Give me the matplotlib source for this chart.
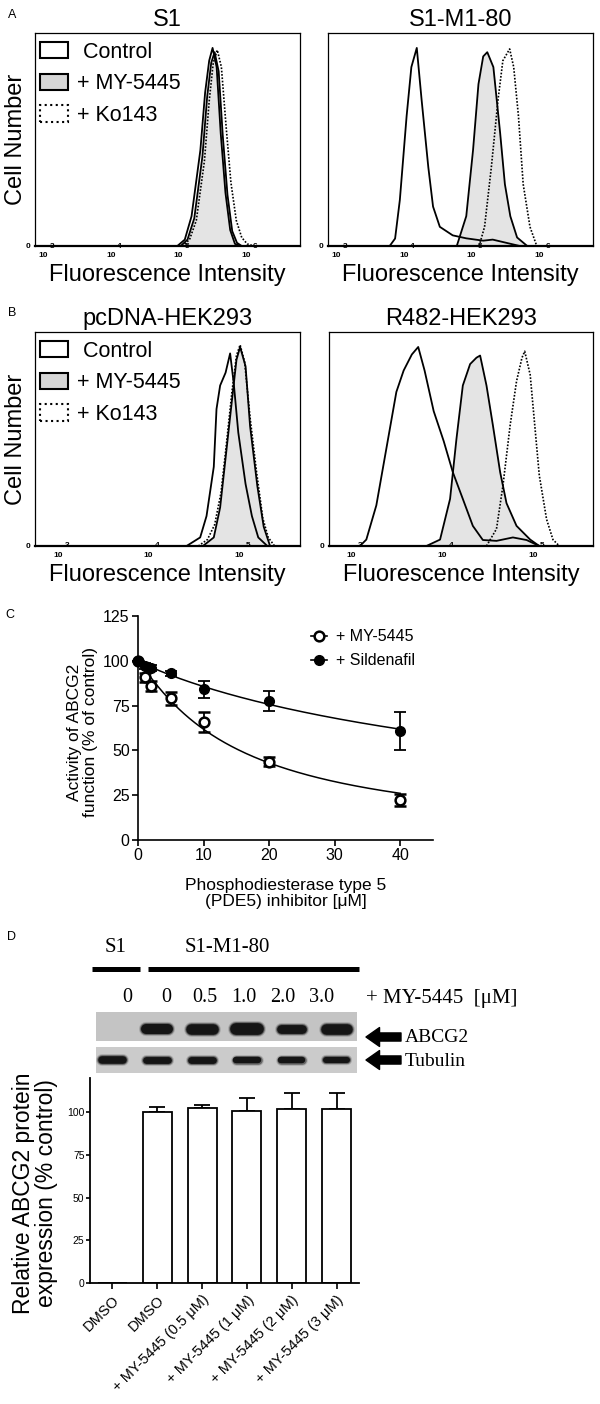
import numpy as np
import matplotlib
matplotlib.use("Agg")
import matplotlib.pyplot as plt
import matplotlib.transforms as mtransforms
from matplotlib.patches import Patch, FancyArrowPatch
from matplotlib.lines import Line2D

plt.rcParams['font.family'] = ['Liberation Sans', 'DejaVu Sans']
SERIF = ['Liberation Serif', 'DejaVu Serif']

# ---- A: flow histograms (x = log10 intensity, y = % of panel height) ----
s1_ctrl_x = [4.85, 4.96, 5.06, 5.19, 5.26, 5.32, 5.37, 5.43, 5.49, 5.56, 5.63, 5.70, 5.78]
s1_ctrl_y = [0, 3, 14, 45, 72, 87, 93, 84, 53, 25, 7.5, 1, 0]
s1_my_x = [4.90, 5.00, 5.10, 5.22, 5.29, 5.35, 5.40, 5.46, 5.52, 5.59, 5.66, 5.73, 5.80]
s1_my_y = [0, 3, 13, 42, 70, 86, 91, 82, 52, 24, 7, 1.5, 0]
s1_ko_x = [4.92, 5.03, 5.13, 5.25, 5.32, 5.38, 5.44, 5.50, 5.57, 5.64, 5.72, 5.80, 5.88, 5.98]
s1_ko_y = [0, 3, 12, 40, 68, 86, 92, 84, 56, 30, 12, 4, 1, 0]

m1_ctrl_x = [3.66, 3.74, 3.81, 3.91, 3.98, 4.06, 4.13, 4.23, 4.30, 4.40, 4.59, 4.79, 5.04, 5.18, 5.38, 5.58]
m1_ctrl_y = [0, 3.5, 21.6, 61, 84, 93, 69, 37, 18.5, 9, 5, 3.6, 2.5, 3, 1.5, 0]
m1_my_x = [4.65, 4.79, 4.89, 4.97, 5.04, 5.10, 5.19, 5.29, 5.36, 5.44, 5.54, 5.69]
m1_my_y = [0, 14, 45, 76, 89, 91, 84, 53, 29, 14, 4, 0]
m1_ko_x = [4.98, 5.06, 5.16, 5.26, 5.33, 5.43, 5.49, 5.56, 5.63, 5.73, 5.83]
m1_ko_y = [0, 9, 37, 69, 87, 92.5, 84, 61, 29, 9, 0]

# ---- B ----
hek_ctrl_x = [4.32, 4.47, 4.54, 4.62, 4.65, 4.69, 4.75, 4.80, 4.84, 4.89, 4.97, 5.04, 5.11, 5.21]
hek_ctrl_y = [0, 4, 14, 37, 64, 75, 81, 90, 76, 53, 29, 14, 4, 0]
hek_my_x = [4.50, 4.62, 4.69, 4.76, 4.82, 4.87, 4.91, 4.97, 5.02, 5.10, 5.17, 5.24]
hek_my_y = [0, 4, 18, 45, 68, 87, 93, 84, 56, 28, 9, 0]
hek_ko_x = [4.45, 4.55, 4.63, 4.70, 4.76, 4.82, 4.87, 4.91, 4.96, 5.02, 5.09, 5.16, 5.22, 5.29]
hek_ko_y = [0, 3, 10, 25, 48, 72, 89, 94, 86, 60, 35, 13, 4, 0]

r482_ctrl_x = [3.00, 3.07, 3.18, 3.29, 3.40, 3.48, 3.57, 3.64, 3.71, 3.81, 3.92, 4.02, 4.13, 4.24,
               4.35, 4.50, 4.68, 4.83, 4.97]
r482_ctrl_y = [0, 3, 19, 45.5, 72, 82, 89.5, 93, 82, 63, 49, 34.5, 22, 9.4, 2.8, 2.4, 4, 2.8, 0]
r482_my_x = [3.73, 3.88, 3.99, 4.06, 4.13, 4.21, 4.28, 4.32, 4.39, 4.46, 4.54, 4.61, 4.72, 4.87, 4.97]
r482_my_y = [0, 3, 22, 50, 75, 85, 88, 89, 75, 56.5, 34.5, 20, 9.4, 3, 0]
r482_ko_x = [4.39, 4.50, 4.57, 4.65, 4.72, 4.78, 4.81, 4.87, 4.92, 4.97, 5.05, 5.12, 5.19]
r482_ko_y = [0, 8, 28, 56.5, 77, 88, 91, 80, 56.5, 33, 12.5, 3, 0]

# ---- C: ABCG2 activity vs PDE5 inhibitor ----
conc_my = [0, 1, 2, 5, 10, 20, 40]
act_my = [100, 90.7, 86, 79, 66, 43.7, 22.3]
err_my = [0, 2.6, 2.8, 3.5, 5.5, 2.5, 3.5]
conc_sil = [0, 1, 2, 5, 10, 20, 40]
act_sil = [100, 97, 96, 93, 84, 77.5, 61]
err_sil = [0, 1.5, 1.5, 1.5, 4.5, 5.5, 10.5]

# ---- D: western blot + quantification ----
lane_doses = ['0', '0', '0.5', '1.0', '2.0', '3.0']
abcg2_band = [0, 0.85, 0.9, 1.0, 0.75, 0.9]
tubulin_band = [1.0, 0.9, 0.9, 0.85, 0.85, 0.8]
d_labels = ['DMSO', 'DMSO', '+ MY-5445 (0.5 μM)', '+ MY-5445 (1 μM)',
            '+ MY-5445 (2 μM)', '+ MY-5445 (3 μM)']
d_values = [0, 100, 102.5, 100.5, 102, 102]
d_err = [0, 3, 1.5, 8, 9, 9]

W, H = 600, 1404
fig = plt.figure(figsize=(6, 14.04), dpi=100)


def rect(x0, y0, x1, y1):
    return [x0 / W, 1 - y1 / H, (x1 - x0) / W, (y1 - y0) / H]


def hist_panel(box, title, xlim, ticks, ctrl, my, ko, legend=False):
    ax = fig.add_axes(box)
    ax.fill_between(my[0], my[1], color='#e4e4e4', lw=0)
    ax.plot(ctrl[0], ctrl[1], color='black', lw=1.3)
    ax.plot(my[0], my[1], color='black', lw=1.3)
    ax.plot(ko[0], ko[1], color='black', lw=1.2, ls=(0, (1, 1)))
    ax.set_xlim(xlim)
    ax.set_ylim(0, 100)
    for s in ax.spines.values():
        s.set_linewidth(0.9)
    ax.spines['bottom'].set_linewidth(1.6)
    ax.set_xticks([])
    ax.set_yticks([0])
    ax.set_yticklabels(['0'], fontsize=6, fontweight='bold')
    ax.tick_params(axis='y', length=0, pad=3)
    tr = mtransforms.blended_transform_factory(ax.transData, ax.transAxes)
    pxdec = box[2] * W / (xlim[1] - xlim[0])
    for t in ticks:
        ax.text(t - 9 / pxdec, -0.045, '10', transform=tr, fontsize=6,
                fontweight='bold', ha='center', va='center')
        ax.text(t, 0.0, str(t), transform=tr, fontsize=6, fontweight='bold',
                ha='center', va='center', zorder=5)
    ax.set_title(title, fontsize=17, pad=5)
    ax.text(0.5, -0.135, 'Fluorescence Intensity', transform=ax.transAxes,
            fontsize=17, ha='center', va='center')
    if legend:
        ax.text(-0.072, 0.5, 'Cell Number', transform=ax.transAxes, fontsize=17,
                rotation=90, ha='center', va='center')
        handles = [Patch(facecolor='white', edgecolor='black', lw=1.5),
                   Patch(facecolor='#d6d6d6', edgecolor='black', lw=1.5),
                   Patch(facecolor='white', edgecolor='black', lw=1.5, ls=':')]
        ax.legend(handles, [' Control', '+ MY-5445', '+ Ko143'], loc='upper left',
                  bbox_to_anchor=(0.02, 0.96), frameon=False, fontsize=15.5,
                  handlelength=1.3, handleheight=0.8, handletextpad=0.4,
                  labelspacing=0.5, borderpad=0, borderaxespad=0)
    return ax


hist_panel(rect(35, 33, 300, 246), 'S1', (2.75, 6.66), [3, 4, 5, 6],
           (s1_ctrl_x, s1_ctrl_y), (s1_my_x, s1_my_y), (s1_ko_x, s1_ko_y), legend=True)
hist_panel(rect(328, 33, 593, 246), 'S1-M1-80', (2.75, 6.66), [3, 4, 5, 6],
           (m1_ctrl_x, m1_ctrl_y), (m1_my_x, m1_my_y), (m1_ko_x, m1_ko_y))
hist_panel(rect(35, 332, 300, 546), 'pcDNA-HEK293', (2.65, 5.57), [3, 4, 5],
           (hek_ctrl_x, hek_ctrl_y), (hek_my_x, hek_my_y), (hek_ko_x, hek_ko_y), legend=True)
hist_panel(rect(329, 332, 593, 546), 'R482-HEK293', (2.66, 5.56), [3, 4, 5],
           (r482_ctrl_x, r482_ctrl_y), (r482_my_x, r482_my_y), (r482_ko_x, r482_ko_y))


# ---- panel C ----
def hill_fit(x, y):
    # least-squares fit of 100 / (1 + (x/ic50)^h) over a grid
    x = np.asarray(x, float)[:, None, None]
    y = np.asarray(y, float)[:, None, None]
    hs = np.linspace(0.3, 3.0, 271)[None, None, :]
    cs = np.logspace(0, 3, 601)[None, :, None]
    sse = ((100 / (1 + (x / cs) ** hs) - y) ** 2).sum(axis=0)
    ic, ih = np.unravel_index(np.argmin(sse), sse.shape)
    h, c = hs[0, 0, ih], cs[0, ic, 0]
    xs = np.linspace(0, x.max(), 200)
    return xs, 100 / (1 + (xs / c) ** h)


axc = fig.add_axes(rect(138, 616, 433, 840))
fx, fy = hill_fit(conc_my, act_my)
axc.plot(fx, fy, color='black', lw=1.1)
fx, fy = hill_fit(conc_sil, act_sil)
axc.plot(fx, fy, color='black', lw=1.1)
axc.errorbar(conc_my, act_my, yerr=err_my, fmt='o', ms=7, mfc='white', mec='black',
             mew=1.8, ecolor='black', elinewidth=1.3, capsize=4, capthick=1.3,
             clip_on=False, zorder=3)
axc.errorbar(conc_sil, act_sil, yerr=err_sil, fmt='o', ms=7, mfc='black', mec='black',
             ecolor='black', elinewidth=1.3, capsize=4, capthick=1.3,
             clip_on=False, zorder=4)
axc.set_xlim(0, 45)
axc.set_ylim(0, 125)
axc.set_xticks([0, 10, 20, 30, 40])
axc.set_yticks([0, 25, 50, 75, 100, 125])
axc.spines['top'].set_visible(False)
axc.spines['right'].set_visible(False)
for s in ('left', 'bottom'):
    axc.spines[s].set_linewidth(1.2)
axc.tick_params(labelsize=11.5, width=1.2, length=4, pad=2)
axc.set_ylabel('Activity of ABCG2\nfunction (% of control)', fontsize=12.5, linespacing=1.05)
axc.yaxis.set_label_coords(-0.136, 0.48)
axc.set_xlabel('Phosphodiesterase type 5\n(PDE5) inhibitor [μM]', fontsize=12.5, linespacing=1.1)
axc.xaxis.set_label_coords(0.5, -0.17)
leg_h = [Line2D([0], [0], color='black', lw=1.2, marker='o', ms=7, mfc='white', mew=1.8),
         Line2D([0], [0], color='black', lw=1.2, marker='o', ms=7, mfc='black')]
axc.legend(leg_h, ['+ MY-5445', '+ Sildenafil'], loc='upper left', bbox_to_anchor=(0.585, 0.94),
           frameon=False, fontsize=11.5, handlelength=1.0, handletextpad=0.6,
           labelspacing=0.55, borderpad=0, borderaxespad=0)

# ---- panel D: blot ----
lane_lim = ((96 - 112.4) / 44.83, (357 - 112.4) / 44.83)


def blot_strip(box, bands, ypos, thick, bg):
    ax = fig.add_axes(box)
    ax.set_facecolor(bg)
    ax.set_xlim(lane_lim)
    ax.set_ylim(0, 1)
    ax.set_xticks([])
    ax.set_yticks([])
    for s in ax.spines.values():
        s.set_visible(False)
    for i, v in enumerate(bands):
        if v <= 0:
            continue
        for extra, col, a in [(3, '#707070', 0.35), (1.5, '#3a3a3a', 0.6), (0, '#151515', 1.0)]:
            ax.plot([i - 0.24, i + 0.24], [ypos, ypos], lw=thick * v + extra,
                    color=col, alpha=a, solid_capstyle='round')
    return ax


blot_strip(rect(96, 1012, 357, 1041), abcg2_band, 0.4, 8.5, '#c4c4c4')
blot_strip(rect(96, 1047, 357, 1073), tubulin_band, 0.5, 5.5, '#cbcbcb')


def fig_text(x, y, s, **kw):
    fig.text(x / W, 1 - y / H, s, **kw)


for i, d in enumerate(lane_doses):
    fig_text(127 + 39 * i, 998, d, family=SERIF, fontsize=14.5, ha='center', va='center')
fig_text(366, 998, '+ MY-5445  [μM]', family=SERIF, fontsize=15, ha='left', va='center')
fig_text(116, 948, 'S1', family=SERIF, fontsize=15, ha='center', va='center')
fig_text(227, 948, 'S1-M1-80', family=SERIF, fontsize=15, ha='center', va='center')
fig_text(405, 1037, 'ABCG2', family=SERIF, fontsize=14, ha='left', va='center')
fig_text(405, 1061, 'Tubulin', family=SERIF, fontsize=14, ha='left', va='center')
for x0, x1 in [(92, 140), (148, 359)]:
    fig.add_artist(Line2D([x0 / W, x1 / W], [1 - 969 / H] * 2, transform=fig.transFigure,
                          lw=3.6, color='black', solid_capstyle='butt'))
for yy in (1037, 1060):
    fig.add_artist(FancyArrowPatch(
        (401 / W, 1 - yy / H), (366 / W, 1 - yy / H), transform=fig.transFigure,
        arrowstyle='simple,head_length=0.75,head_width=1.05,tail_width=0.45',
        mutation_scale=13, color='black', shrinkA=0, shrinkB=0))

# ---- panel D: bar chart ----
axd = fig.add_axes(rect(90, 1078, 359, 1283))
xd = np.arange(len(d_values))
axd.bar(xd, d_values, width=0.65, color='white', edgecolor='black', lw=1.3, zorder=2)
has_bar = np.array(d_values) > 0
axd.errorbar(xd[has_bar], np.array(d_values)[has_bar],
             yerr=[np.zeros(has_bar.sum()), np.array(d_err)[has_bar]],
             fmt='none', ecolor='black', elinewidth=1.3, capsize=6, capthick=1.3, zorder=1)
axd.set_xlim(-0.5, 5.5)
axd.set_ylim(0, 120)
axd.set_yticks([0, 25, 50, 75, 100])
axd.set_xticks(xd)
axd.set_xticklabels(d_labels, rotation=45, ha='right', rotation_mode='anchor', fontsize=10.5)
axd.spines['top'].set_visible(False)
axd.spines['right'].set_visible(False)
for s in ('left', 'bottom'):
    axd.spines[s].set_linewidth(1.3)
axd.tick_params(axis='y', labelsize=7.5, width=1.2, length=3, pad=1)
axd.tick_params(axis='x', width=1.2, length=4, pad=3)
axd.set_ylabel('Relative ABCG2 protein\nexpression (% control)', fontsize=16.5, linespacing=1.0)
axd.yaxis.set_label_coords(-0.12, 0.44)

# panel letters
for lab, x, y in [('A', 12, 15), ('B', 12, 313), ('C', 10, 615), ('D', 12, 937)]:
    fig_text(x, y, lab, fontsize=9, ha='center', va='center')

fig.savefig('out.png', dpi=100)
